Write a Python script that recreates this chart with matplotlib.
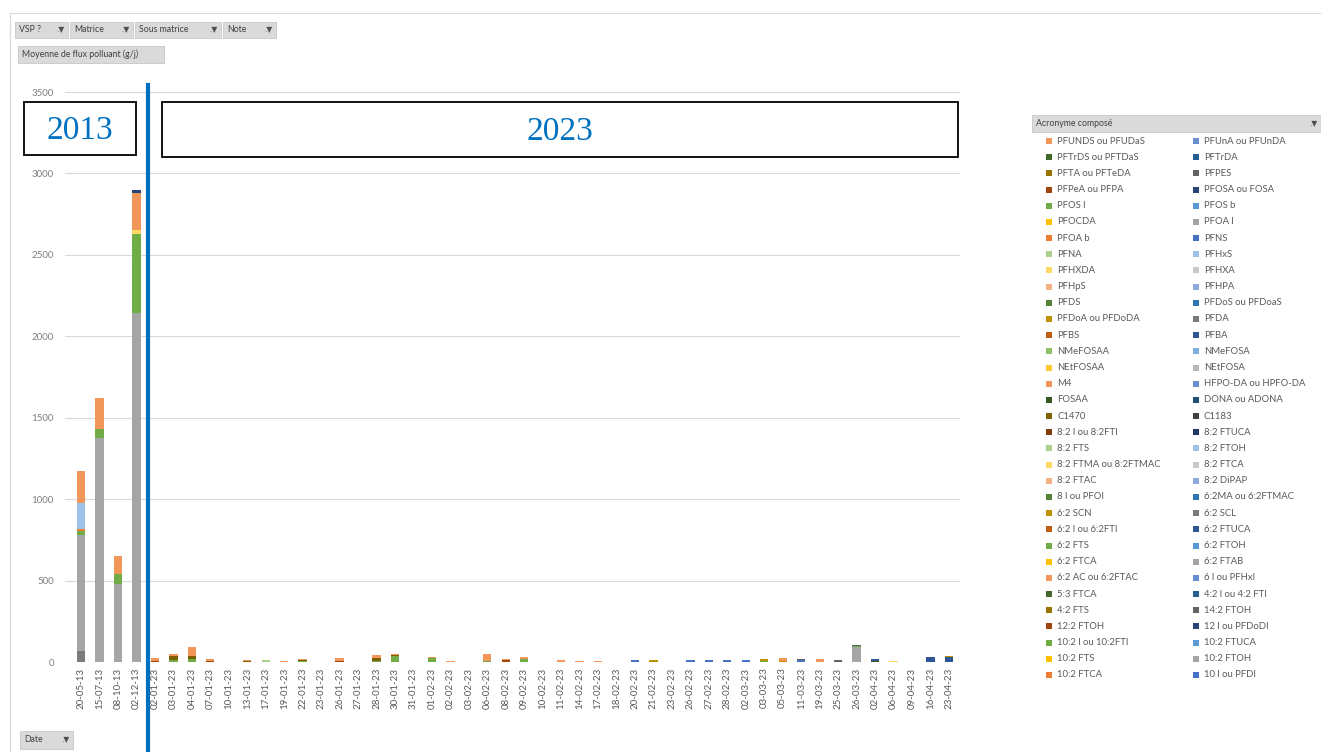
import matplotlib
matplotlib.use('Agg')
import matplotlib.pyplot as plt
from matplotlib.patches import Rectangle
from matplotlib.lines import Line2D
import numpy as np

plt.rcParams['font.family'] = ['Lato', 'DejaVu Sans']

W, H = 1321, 752

# Dates (axe x)
dates = ['20-05-13', '15-07-13', '08-10-13', '02-12-13',
         '02-01-23', '03-01-23', '04-01-23', '07-01-23', '10-01-23', '13-01-23',
         '17-01-23', '19-01-23', '22-01-23', '23-01-23', '26-01-23',
         '27-01-23', '28-01-23', '30-01-23', '31-01-23', '01-02-23', '02-02-23',
         '03-02-23', '06-02-23', '08-02-23', '09-02-23', '10-02-23',
         '11-02-23', '14-02-23', '17-02-23', '18-02-23', '20-02-23', '21-02-23',
         '23-02-23', '26-02-23', '27-02-23', '28-02-23', '02-03-23',
         '03-03-23', '05-03-23', '11-03-23', '19-03-23', '25-03-23', '26-03-23',
         '02-04-23', '06-04-23', '09-04-23', '16-04-23', '23-04-23']

# Séries (g/j) : 4 dates 2013 puis 44 dates 2023
pfda = [66, 0, 0, 0,
        0, 0, 0, 0, 0, 0, 0, 0, 0, 0, 0,
        0, 0, 0, 0, 0, 0, 0, 0, 0, 0, 0,
        0, 0, 0, 0, 0, 0, 0, 0, 0, 0, 0,
        0, 0, 0, 0, 0, 0, 0, 0, 0, 0, 0]
pfoa_l = [716, 1376, 478, 2141,
          0, 0, 0, 0, 3, 0, 0, 0, 0, 3, 0,
          3, 0, 0, 3, 0, 0, 3, 0, 0, 0, 3,
          0, 0, 0, 3, 0, 0, 3, 0, 0, 0, 0,
          0, 0, 0, 0, 0, 92, 0, 0, 0, 0, 0]
pfos_l = [20, 56, 61, 490,
          0, 12, 20, 0, 0, 0, 0, 0, 6, 0, 0,
          0, 8, 34, 0, 22, 0, 0, 8, 0, 16, 0,
          0, 0, 0, 0, 0, 0, 0, 0, 0, 0, 0,
          6, 0, 0, 0, 0, 6, 0, 0, 0, 0, 0]
pfoa_b = [12, 0, 0, 0,
          0, 0, 0, 0, 0, 0, 0, 0, 0, 0, 0,
          0, 0, 0, 0, 0, 0, 0, 0, 0, 0, 0,
          0, 0, 0, 0, 0, 0, 0, 0, 0, 0, 0,
          0, 0, 0, 0, 0, 0, 0, 0, 0, 0, 0]
pfhxs = [165, 0, 0, 0,
         0, 0, 0, 0, 0, 0, 0, 0, 0, 0, 0,
         0, 0, 0, 0, 0, 0, 0, 0, 0, 0, 0,
         0, 0, 0, 0, 0, 0, 0, 0, 0, 0, 0,
         0, 0, 0, 0, 0, 0, 0, 0, 0, 0, 0]
pfna = [0, 0, 0, 0,
        0, 0, 0, 0, 0, 0, 14, 0, 0, 0, 0,
        0, 0, 0, 0, 0, 0, 0, 0, 0, 0, 0,
        0, 0, 0, 0, 0, 0, 0, 0, 0, 0, 0,
        0, 0, 0, 0, 0, 0, 0, 0, 0, 0, 0]
fosaa = [0, 0, 0, 0,
         0, 0, 0, 0, 0, 0, 0, 0, 0, 0, 0,
         0, 0, 0, 0, 0, 0, 0, 0, 0, 0, 0,
         0, 0, 0, 0, 0, 0, 0, 0, 0, 0, 0,
         0, 0, 0, 0, 0, 0, 8, 0, 0, 0, 0]
c1470 = [0, 0, 0, 0,
         0, 22, 15, 0, 0, 8, 0, 0, 8, 0, 0,
         0, 14, 6, 0, 0, 0, 0, 0, 0, 0, 0,
         0, 0, 0, 0, 0, 0, 0, 0, 0, 0, 0,
         0, 0, 0, 0, 0, 0, 0, 0, 0, 0, 0]
pfpea = [0, 0, 0, 0,
         8, 0, 0, 8, 0, 0, 0, 0, 0, 0, 5,
         0, 0, 0, 0, 0, 0, 0, 0, 10, 0, 0,
         0, 0, 0, 0, 0, 0, 0, 0, 0, 0, 0,
         0, 0, 0, 0, 0, 0, 0, 0, 0, 0, 0]
pfns = [0, 0, 0, 0,
        0, 0, 0, 0, 0, 0, 0, 0, 0, 0, 0,
        0, 0, 0, 0, 0, 0, 0, 0, 0, 0, 0,
        0, 0, 0, 0, 10, 0, 0, 10, 10, 10, 10,
        0, 0, 10, 0, 0, 0, 0, 0, 0, 0, 0]
pfpes = [0, 0, 0, 0,
         0, 0, 0, 0, 0, 0, 0, 0, 0, 0, 0,
         0, 0, 0, 0, 0, 0, 0, 0, 0, 0, 0,
         0, 0, 0, 0, 0, 0, 0, 0, 0, 0, 0,
         0, 0, 8, 0, 12, 6, 0, 0, 0, 0, 0]
pfba = [0, 0, 0, 0,
        0, 0, 0, 0, 0, 0, 0, 0, 0, 0, 0,
        0, 0, 0, 0, 0, 0, 0, 0, 0, 0, 0,
        0, 0, 0, 0, 0, 0, 0, 0, 0, 0, 0,
        0, 0, 0, 0, 0, 0, 12, 0, 0, 30, 32]
pfdoa = [0, 0, 0, 0,
         0, 0, 0, 0, 0, 0, 0, 0, 0, 0, 0,
         0, 0, 0, 0, 0, 0, 0, 0, 0, 0, 0,
         0, 0, 0, 0, 0, 10, 0, 0, 0, 0, 0,
         12, 8, 0, 0, 0, 0, 0, 0, 0, 0, 6]
pfhxda = [0, 0, 0, 19,
          0, 0, 0, 0, 0, 0, 0, 0, 0, 0, 0,
          0, 0, 0, 0, 0, 0, 0, 0, 0, 0, 0,
          0, 0, 0, 0, 0, 0, 0, 0, 0, 0, 0,
          0, 0, 0, 0, 0, 0, 0, 8, 0, 0, 0]
pfunds = [196, 187, 109, 231,
          17, 15, 59, 12, 0, 7, 0, 8, 6, 0, 20,
          0, 18, 12, 0, 10, 8, 0, 40, 10, 14, 0,
          10, 8, 8, 0, 0, 0, 0, 0, 0, 0, 0,
          0, 17, 0, 18, 0, 0, 0, 0, 0, 0, 0]
pfosa = [0, 0, 0, 19,
         0, 0, 0, 0, 0, 0, 0, 0, 0, 0, 0,
         0, 0, 0, 0, 0, 0, 0, 0, 0, 0, 0,
         0, 0, 0, 0, 0, 0, 0, 0, 0, 0, 0,
         0, 0, 0, 0, 0, 0, 0, 0, 0, 0, 0]

# Légende (ordre ligne par ligne : gauche, droite)
legend_labels = [
    'PFUNDS ou PFUDaS', 'PFUnA ou PFUnDA', 'PFTrDS ou PFTDaS', 'PFTrDA',
    'PFTA ou PFTeDA', 'PFPES', 'PFPeA ou PFPA', 'PFOSA ou FOSA',
    'PFOS l', 'PFOS b', 'PFOCDA', 'PFOA l', 'PFOA b', 'PFNS',
    'PFNA', 'PFHxS', 'PFHXDA', 'PFHXA', 'PFHpS', 'PFHPA',
    'PFDS', 'PFDoS ou PFDoaS', 'PFDoA ou PFDoDA', 'PFDA', 'PFBS', 'PFBA',
    'NMeFOSAA', 'NMeFOSA', 'NEtFOSAA', 'NEtFOSA', 'M4', 'HFPO-DA ou HPFO-DA',
    'FOSAA', 'DONA ou ADONA', 'C1470', 'C1183', '8:2 l ou 8:2FTI', '8:2 FTUCA',
    '8:2 FTS', '8:2 FTOH', '8:2 FTMA ou 8:2FTMAC', '8:2 FTCA', '8:2 FTAC', '8:2 DiPAP',
    '8 l ou PFOI', '6:2MA ou 6:2FTMAC', '6:2 SCN', '6:2 SCL',
    '6:2 l ou 6:2FTI', '6:2 FTUCA', '6:2 FTS', '6:2 FTOH', '6:2 FTCA', '6:2 FTAB',
    '6:2 AC ou 6:2FTAC', '6 l ou PFHxl', '5:3 FTCA', '4:2 l ou 4:2 FTI',
    '4:2 FTS', '14:2 FTOH', '12:2 FTOH', '12 l ou PFDoDI',
    '10:2 l ou 10:2FTI', '10:2 FTUCA', '10:2 FTS', '10:2 FTOH', '10:2 FTCA', '10 l ou PFDI']
legend_colors = [
    '#F1975A', '#698ED0', '#43682B', '#255E91',
    '#997300', '#636363', '#9E480E', '#264478',
    '#70AD47', '#5B9BD5', '#FFC000', '#A5A5A5', '#ED7D31', '#4472C4',
    '#A9D18E', '#9DC3E6', '#FFD966', '#C9C9C9', '#F4B183', '#8FAADC',
    '#548235', '#2E75B6', '#BF9000', '#7B7B7B', '#C55A11', '#2F5597',
    '#8CC168', '#7CAFDD', '#FFCD33', '#B7B7B7', '#F1975A', '#698ED0',
    '#375623', '#1F4E79', '#7F6000', '#404040', '#843C0C', '#203864',
    '#A9D18E', '#9DC3E6', '#FFD966', '#C9C9C9', '#F4B183', '#8FAADC',
    '#548235', '#2E75B6', '#BF9000', '#7B7B7B',
    '#C55A11', '#2F5597', '#70AD47', '#5B9BD5', '#FFC000', '#A5A5A5',
    '#F1975A', '#698ED0', '#43682B', '#255E91',
    '#997300', '#636363', '#9E480E', '#264478',
    '#70AD47', '#5B9BD5', '#FFC000', '#A5A5A5', '#ED7D31', '#4472C4']

# empilement de bas en haut
stack = [('PFDA', pfda), ('PFOA l', pfoa_l), ('PFOS l', pfos_l), ('PFOA b', pfoa_b),
         ('PFHxS', pfhxs), ('PFNA', pfna), ('FOSAA', fosaa), ('C1470', c1470),
         ('PFPeA ou PFPA', pfpea), ('PFNS', pfns), ('PFPES', pfpes), ('PFBA', pfba),
         ('PFDoA ou PFDoDA', pfdoa), ('PFHXDA', pfhxda), ('PFUNDS ou PFUDaS', pfunds),
         ('PFOSA ou FOSA', pfosa)]
color_of = dict(zip(legend_labels, legend_colors))


def fx(x):
    return x / W


def fy(y):
    return 1 - y / H


fig = plt.figure(figsize=(13.21, 7.52), dpi=100)

ax = fig.add_axes([fx(65), fy(662), fx(960) - fx(65), fy(92) - fy(662)])
x = np.arange(len(dates))
bottom = np.zeros(len(dates))
for name, vals in stack:
    v = np.array(vals, dtype=float)
    ax.bar(x, v, width=0.45, bottom=bottom, color=color_of[name], linewidth=0)
    bottom += v

ax.set_xlim(-0.87, 47.6)
ax.set_ylim(0, 3500)
ax.set_yticks(np.arange(0, 3501, 500))
ax.set_xticks(x)
ax.set_xticklabels(dates, rotation=90, fontsize=7, color='#595959')
ax.tick_params(axis='y', labelsize=7, labelcolor='#7F7F7F', length=0, pad=8)
ax.tick_params(axis='x', length=0, pad=4)
ax.grid(axis='y', color='#D9D9D9', linewidth=0.8)
ax.set_axisbelow(True)
for s in ax.spines.values():
    s.set_visible(False)

# cadre du tableau croisé
fig.add_artist(Line2D([fx(10), 1], [fy(13), fy(13)], color='#D9D9D9', lw=0.8))
fig.add_artist(Line2D([fx(10), fx(10)], [fy(13), 0], color='#D9D9D9', lw=0.8))


def bouton(x0, y0, x1, y1, txt, filtre=True):
    fig.add_artist(Rectangle((fx(x0), fy(y1)), fx(x1 - x0), (y1 - y0) / H,
                             facecolor='#DADADA', edgecolor='#C8C8C8', lw=0.6))
    fig.text(fx(x0 + 4), fy((y0 + y1) / 2), txt, fontsize=6.3, color='#404040',
             va='center', ha='left')
    if filtre:
        fig.text(fx(x1 - 4), fy((y0 + y1) / 2), '.\u25BC', fontsize=5.5, color='#505050',
                 va='center', ha='right', family='DejaVu Sans')


bouton(15, 22, 68, 38, 'VSP ?')
bouton(70, 22, 133, 38, 'Matrice')
bouton(135, 22, 221, 38, 'Sous matrice')
bouton(223, 22, 276, 38, 'Note')
bouton(18, 46, 164, 63, 'Moyenne de flux polluant (g/j)', filtre=False)
bouton(20, 731, 73, 749, 'Date')
bouton(1032, 115, 1321, 132, 'Acronyme composé')

# légende manuelle
for i, (lab, col) in enumerate(zip(legend_labels, legend_colors)):
    row, c = i // 2, i % 2
    xs = 1046 if c == 0 else 1193
    yc = 141 + row * 16.18
    fig.add_artist(Rectangle((fx(xs), fy(yc + 3)), fx(6), 6 / H,
                             facecolor=col, edgecolor='none'))
    fig.text(fx(xs + 11), fy(yc), lab, fontsize=6.8, color='#595959',
             va='center', ha='left')

# séparation 2013 / 2023
fig.add_artist(Line2D([fx(148), fx(148)], [fy(85), 0], color='#0070C0', lw=3))
for (x0, y0, x1, y1, txt) in [(24, 102, 136, 155, '2013'), (162, 102, 958, 157, '2023')]:
    fig.add_artist(Rectangle((fx(x0), fy(y1)), fx(x1 - x0), (y1 - y0) / H,
                             facecolor='white', edgecolor='black', lw=1.3))
    fig.text(fx((x0 + x1) / 2), fy((y0 + y1) / 2 + 2), txt, fontsize=24,
             family='Liberation Serif', color='#0070C0', ha='center', va='center')

fig.savefig('out.png', dpi=100)
